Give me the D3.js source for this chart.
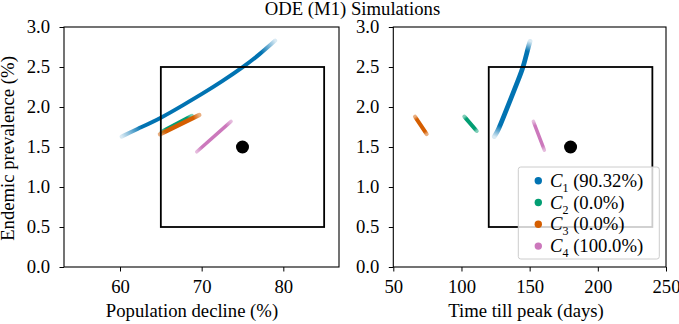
<!DOCTYPE html>
<html>
<head>
<meta charset="utf-8">
<script src="https://cdn.jsdelivr.net/npm/d3@7"></script>
<style>
  body { margin: 0; background: #fff; }
</style>
</head>
<body>
<svg id="chart" width="679" height="324"></svg>
<script>
// cluster traces, [x, y] pairs
const declineC1 = [[60.2, 1.63], [62, 1.72], [65, 1.86], [68, 2.04], [70, 2.16], [72.5, 2.32], [75.1, 2.5], [77, 2.65], [79, 2.83]];
const declineC2 = [[65.1, 1.69], [68.8, 1.89]];
const declineC3 = [[64.9, 1.66], [69.7, 1.9]];
const declineC4 = [[69.4, 1.44], [73.6, 1.82]];

const peakC1 = [[124.1, 1.63], [127, 1.71], [131.9, 1.92], [136.8, 2.13], [141.7, 2.34], [145.4, 2.5], [149, 2.75], [150.3, 2.82]];
const peakC2 = [[102.1, 1.88], [111.2, 1.7]];
const peakC3 = [[65.9, 1.88], [74.5, 1.66]];
const peakC4 = [[152.7, 1.82], [160.8, 1.46]];

const targetDecline = [65, 85, 75];   // box x0, x1, dot x
const targetPeak = [120, 240, 180];
const targetPrev = [0.5, 2.5, 1.5];   // box y0, y1, dot y

const clusterNames = ['1', '2', '3', '4'];
const clusterShares = ['90.32%', '0.0%', '0.0%', '100.0%'];
const colors = ['#0173b2', '#029e73', '#d55e00', '#cc78bc'];

const yTicks = [0, 0.5, 1, 1.5, 2, 2.5, 3];
const declineTicks = [60, 70, 80];
const peakTicks = [50, 100, 150, 200, 250];

const svg = d3.select('#chart');
const plotTop = 27, plotBottom = 267;
const fontSize = 18.7;
const serif = '"Liberation Serif", "Times New Roman", serif';

const y = d3.scaleLinear().domain([0, 3]).range([plotBottom, plotTop]);

const panels = [
    {
        x: d3.scaleLinear().domain([53.14, 86.82]).range([64, 339]),
        ticks: declineTicks,
        clusters: [declineC1, declineC2, declineC3, declineC4],
        target: targetDecline,
        xlabel: 'Population decline (%)',
        labelX: 192,
        width: [4, 4, 4.5, 3.5]
    },
    {
        x: d3.scaleLinear().domain([50, 250]).range([393.3, 666]),
        ticks: peakTicks,
        clusters: [peakC1, peakC2, peakC3, peakC4],
        target: targetPeak,
        xlabel: 'Time till peak (days)',
        labelX: 526,
        width: [4.8, 4, 4, 3.5]
    }
];

const defs = svg.append('defs');
let gradId = 0;

panels.forEach((p, pi) => {
    const g = svg.append('g');
    const x = p.x;

    // clusters as thick traces, fading a bit at the ends
    p.clusters.forEach((pts, ci) => {
        const a = pts[0], b = pts[pts.length - 1];
        const id = 'fade' + (gradId++);
        const fadeEnd = ci === 0 ? 0.15 : 0.5;
        const grad = defs.append('linearGradient')
            .attr('id', id)
            .attr('gradientUnits', 'userSpaceOnUse')
            .attr('x1', x(a[0])).attr('y1', y(a[1]))
            .attr('x2', x(b[0])).attr('y2', y(b[1]));
        [[0, fadeEnd], [ci === 0 ? 0.12 : 0.15, 1], [ci === 0 ? 0.9 : 0.85, 1], [1, fadeEnd]].forEach(s => {
            grad.append('stop')
                .attr('offset', s[0])
                .attr('stop-color', colors[ci])
                .attr('stop-opacity', s[1]);
        });
        g.append('path')
            .datum(pts)
            .attr('d', d3.line().x(d => x(d[0])).y(d => y(d[1])).curve(d3.curveBasis))
            .attr('fill', 'none')
            .attr('stroke', `url(#${id})`)
            .attr('stroke-width', p.width[ci])
            .attr('stroke-linecap', 'round');
    });

    // target box and point
    g.append('rect')
        .attr('x', x(p.target[0]))
        .attr('y', y(targetPrev[1]))
        .attr('width', x(p.target[1]) - x(p.target[0]))
        .attr('height', y(targetPrev[0]) - y(targetPrev[1]))
        .attr('fill', 'none')
        .attr('stroke', '#000')
        .attr('stroke-width', 1.8);
    g.append('circle')
        .attr('cx', x(p.target[2]))
        .attr('cy', y(targetPrev[2]))
        .attr('r', 6.5)
        .attr('fill', '#000');

    // frame
    g.append('rect')
        .attr('x', x.range()[0])
        .attr('y', plotTop)
        .attr('width', x.range()[1] - x.range()[0])
        .attr('height', plotBottom - plotTop)
        .attr('fill', 'none')
        .attr('stroke', '#000')
        .attr('stroke-width', 1.1);

    const xAxis = g.append('g')
        .attr('transform', `translate(0,${plotBottom})`)
        .call(d3.axisBottom(x).tickValues(p.ticks).tickFormat(d3.format('d')).tickSize(4.5).tickSizeOuter(0).tickPadding(8));
    const yAxis = g.append('g')
        .attr('transform', `translate(${x.range()[0]},0)`)
        .call(d3.axisLeft(y).tickValues(yTicks).tickFormat(d3.format('.1f')).tickSize(4.5).tickSizeOuter(0).tickPadding(9.5));
    [xAxis, yAxis].forEach(ax => {
        ax.attr('font-family', null).attr('font-size', null);
        ax.select('.domain').remove();
        ax.selectAll('line').attr('stroke-width', 1);
        ax.selectAll('text').attr('fill', '#000')
            .style('font-size', fontSize + 'px')
            .style('font-family', serif);
    });

    g.append('text')
        .attr('x', p.labelX)
        .attr('y', 317)
        .attr('text-anchor', 'middle')
        .style('font-size', fontSize + 'px')
        .style('font-family', serif)
        .text(p.xlabel);
});

svg.append('text')
    .attr('transform', `translate(14,${(plotTop + plotBottom) / 2 + 1.5}) rotate(-90)`)
    .attr('text-anchor', 'middle')
    .style('font-size', fontSize + 'px')
    .style('font-family', serif)
    .text('Endemic prevalence (%)');

svg.append('text')
    .attr('x', 352.5)
    .attr('y', 15)
    .attr('text-anchor', 'middle')
    .style('font-size', fontSize + 'px')
    .style('font-family', serif)
    .text('ODE (M1) Simulations');

// legend
const legend = svg.append('g');
legend.append('rect')
    .attr('x', 518.3).attr('y', 167)
    .attr('width', 141).attr('height', 92)
    .attr('rx', 2.5)
    .attr('fill', '#fff').attr('fill-opacity', 0.8)
    .attr('stroke', '#ccc').attr('stroke-width', 1);

clusterNames.forEach((n, i) => {
    const ly = 180.7 + i * 21.8;
    legend.append('circle')
        .attr('cx', 538.3).attr('cy', ly)
        .attr('r', 3.7)
        .attr('fill', colors[i]);
    const t = legend.append('text')
        .attr('x', 550).attr('y', ly + 6)
        .style('font-size', fontSize + 'px')
        .style('font-family', serif);
    t.append('tspan').style('font-style', 'italic').text('C');
    t.append('tspan').style('font-size', '12px').attr('dy', 5).text(n);
    t.append('tspan').attr('dy', -5).text(' (' + clusterShares[i] + ')');
});
</script>
</body>
</html>
